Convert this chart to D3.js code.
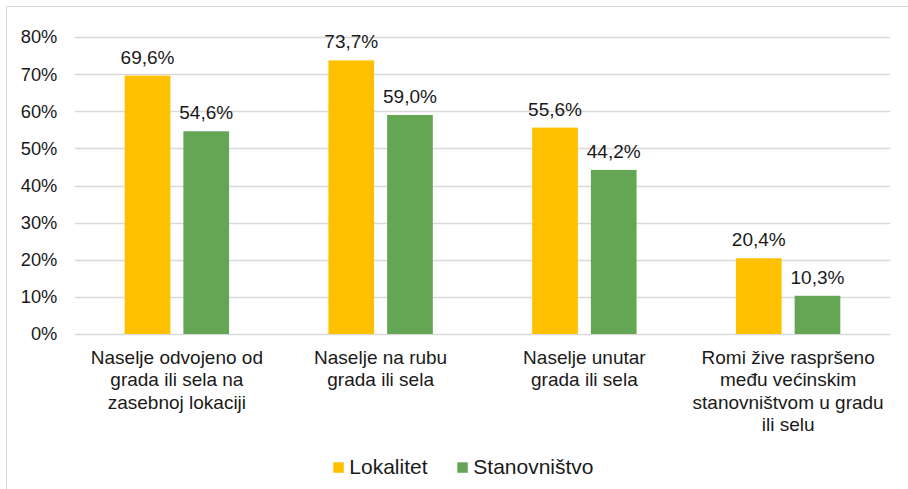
<!DOCTYPE html>
<html>
<head>
<meta charset="utf-8">
<script src="https://cdn.jsdelivr.net/npm/d3@7"></script>
<style>
  body { margin: 0; background: #fff; }
  svg { display: block; font-family: "Liberation Sans", Arial, sans-serif; }
</style>
</head>
<body>
<div id="chart"></div>
<script>
const categories = [
  "Naselje odvojeno od\ngrada ili sela na\nzasebnoj lokaciji",
  "Naselje na rubu\ngrada ili sela",
  "Naselje unutar\ngrada ili sela",
  "Romi žive raspršeno\nmeđu većinskim\nstanovništvom u gradu\nili selu"
];
const seriesNames = ["Lokalitet", "Stanovništvo"];
const lokalitet = [69.6, 73.7, 55.6, 20.4];
const stanovnistvo = [54.6, 59.0, 44.2, 10.3];
const yTicks = [0, 10, 20, 30, 40, 50, 60, 70, 80];
const colors = ["#ffc000", "#65a655"];

const W = 908, H = 489;
const margin = { top: 37, right: 18, bottom: 155, left: 75 };
const width = W - margin.left - margin.right;
const height = H - margin.top - margin.bottom;

const svg = d3.select("#chart").append("svg")
  .attr("width", W)
  .attr("height", H);

// chart border (cropped on right and bottom)
svg.append("rect")
  .attr("x", 6.5).attr("y", 6.5)
  .attr("width", W + 10).attr("height", H + 10)
  .attr("fill", "none")
  .attr("stroke", "#d9d9d9");

const g = svg.append("g").attr("transform", `translate(${margin.left},${margin.top})`);

const x = d3.scaleBand().domain(d3.range(categories.length)).range([0, width]);
const y = d3.scaleLinear().domain([0, 80]).range([height, 0]);

const barW = 45.7, gap = 13;

// gridlines
g.selectAll(".grid").data(yTicks).join("line")
  .attr("x1", 0).attr("x2", width)
  .attr("y1", d => Math.round(y(d)) + 0.5)
  .attr("y2", d => Math.round(y(d)) + 0.5)
  .attr("stroke", "#d9d9d9")
  .attr("stroke-width", 1.3);

// y tick labels
g.selectAll(".ytick").data(yTicks).join("text")
  .attr("x", -17.7)
  .attr("y", d => y(d))
  .attr("dy", "0.35em")
  .attr("text-anchor", "end")
  .attr("font-size", 18.3)
  .attr("fill", "#1a1a1a")
  .text(d => d + "%");

const series = [lokalitet, stanovnistvo];
series.forEach((vals, si) => {
  const offset = si === 0 ? -(gap / 2 + barW) : gap / 2;
  g.selectAll(".bar" + si).data(vals).join("rect")
    .attr("x", (d, i) => x(i) + x.bandwidth() / 2 + offset)
    .attr("y", d => y(d))
    .attr("width", barW)
    .attr("height", d => y(0) - y(d))
    .attr("fill", colors[si]);
  g.selectAll(".lbl" + si).data(vals).join("text")
    .attr("x", (d, i) => x(i) + x.bandwidth() / 2 + offset + barW / 2)
    .attr("y", d => y(d) - 12)
    .attr("text-anchor", "middle")
    .attr("font-size", 19)
    .attr("fill", "#1a1a1a")
    .text(d => d.toFixed(1).replace(".", ",") + "%");
});

// category labels
categories.forEach((c, i) => {
  const t = g.append("text")
    .attr("text-anchor", "middle")
    .attr("font-size", 19)
    .attr("fill", "#1a1a1a");
  c.split("\n").forEach((line, li) => {
    t.append("tspan")
      .attr("x", x(i) + x.bandwidth() / 2)
      .attr("y", height + 30 + li * 22.3)
      .text(line);
  });
});

// legend
const legend = svg.append("g").attr("transform", "translate(333.3,462.3)");
const legendX = [0, 124];
seriesNames.forEach((n, i) => {
  legend.append("rect")
    .attr("x", legendX[i]).attr("y", 0)
    .attr("width", 10.5).attr("height", 10.5)
    .attr("fill", colors[i]);
  legend.append("text")
    .attr("x", legendX[i] + 16).attr("y", 11.7)
    .attr("font-size", 21)
    .attr("fill", "#1a1a1a")
    .text(n);
});
</script>
</body>
</html>
